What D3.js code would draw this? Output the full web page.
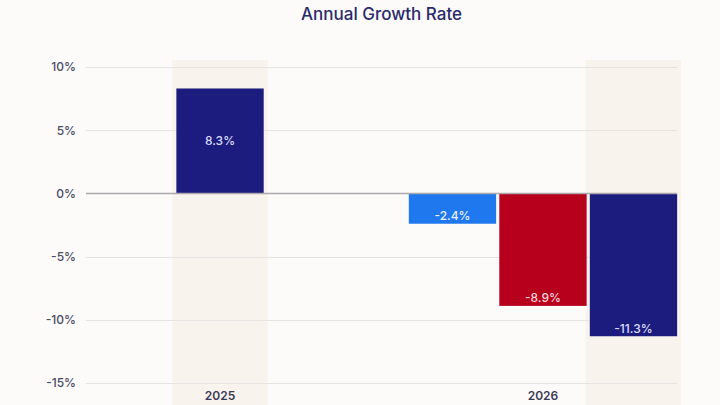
<!DOCTYPE html>
<html>
<head>
<meta charset="utf-8">
<script src="https://cdn.jsdelivr.net/npm/d3@7"></script>
<style>
  html, body { margin: 0; padding: 0; background: #fcfbf9; }
  svg { display: block; }
</style>
</head>
<body>
<div id="chart"></div>
<script>
// chart data
const categories = ["2025", "2026"];
const seriesNames = ["Series A", "Series B", "Series C"];
const seriesColors = ["#1f78ee", "#b6001c", "#1c1c7e"];
const labelColors = ["#e8f0ff", "#ffd6da", "#dcdcff"];
const values2025 = [null, null, 8.3];
const values2026 = [-2.4, -8.9, -11.3];
const highlightSeries = "Series C";
const yTicks = [10, 5, 0, -5, -10, -15];
const titleText = "Annual Growth Rate";

let rows = [values2025, values2026].map((vals, ci) => ({
    category: categories[ci],
    bars: vals.map((v, si) => ({ series: seriesNames[si], color: seriesColors[si], label: labelColors[si], value: v }))
        .filter(b => b.value !== null)
}));

let width = 720, height = 405;
let margin = { left: 86, right: 43, top: 67, bottom: 22 };

let svg = d3.select("#chart").append("svg").attr("width", width).attr("height", height);
svg.append("rect").attr("width", width).attr("height", height).attr("fill", "#fcfbf9");

let x = d3.scalePoint().domain(categories).range([margin.left, width - margin.right]).padding(0.415);
let y = d3.scaleLinear().domain([-15, 10]).range([height - margin.bottom, margin.top]);
let barStep = 90.5;

// inner scale per category so bars stay centered on the year
function innerScale(row) {
    let c = x(row.category);
    let n = row.bars.length;
    return d3.scaleBand().domain(row.bars.map(b => b.series))
        .range([c - n * barStep / 2, c + n * barStep / 2]).paddingInner(0.035).paddingOuter(0.0175);
}

// highlight bands behind the highlighted series
rows.forEach(row => {
    let xi = innerScale(row);
    row.bars.filter(b => b.series === highlightSeries).forEach(b => {
        svg.append("rect").attr("x", xi(b.series) - 4).attr("y", 60)
            .attr("width", xi.bandwidth() + 8).attr("height", height - 60)
            .attr("fill", "#f8f3ed");
    });
});

// grid
svg.append("g").selectAll("line").data(yTicks.filter(t => t !== 0)).join("line")
    .attr("x1", margin.left).attr("x2", width - margin.right)
    .attr("y1", d => Math.round(y(d)) + 0.5).attr("y2", d => Math.round(y(d)) + 0.5)
    .attr("stroke", "#e6e4e2").attr("stroke-width", 1);

// y labels
let yAxis = svg.append("g").attr("transform", "translate(" + margin.left + ",0)")
    .call(d3.axisLeft(y).tickValues(yTicks).tickSize(0).tickPadding(10).tickFormat(d => d + "%"));
yAxis.select(".domain").remove();
yAxis.selectAll("text").attr("fill", "#4a4a66").style("font", "500 12px Inter, sans-serif");

// bars
rows.forEach(row => {
    let xi = innerScale(row);
    let g = svg.append("g");
    g.selectAll("rect").data(row.bars).join("rect")
        .attr("x", d => xi(d.series)).attr("width", xi.bandwidth())
        .attr("y", d => y(Math.max(0, d.value)))
        .attr("height", d => Math.abs(y(d.value) - y(0)))
        .attr("fill", d => d.color);
    g.selectAll("text").data(row.bars).join("text")
        .attr("x", d => xi(d.series) + xi.bandwidth() / 2)
        .attr("y", d => d.value > 0 ? (y(d.value) + y(0)) / 2 : y(d.value) - 8)
        .attr("text-anchor", "middle").attr("dominant-baseline", "central")
        .attr("fill", d => d.label)
        .style("font", "500 12px Inter, sans-serif")
        .text(d => d.value.toFixed(1) + "%");
});

// zero line
svg.append("line").attr("x1", margin.left).attr("x2", width - margin.right)
    .attr("y1", y(0)).attr("y2", y(0)).attr("stroke", "#aaa8ac").attr("stroke-width", 1.5);

// x labels
svg.append("g").selectAll("text").data(categories).join("text")
    .attr("x", d => x(d)).attr("y", 395).attr("text-anchor", "middle").attr("dominant-baseline", "central")
    .attr("fill", "#3a3a55").style("font", "600 12px Inter, sans-serif").text(d => d);

// title, centred over the plot area
svg.append("text").attr("x", (margin.left + width - margin.right) / 2).attr("y", 14)
    .attr("text-anchor", "middle").attr("dominant-baseline", "central")
    .attr("fill", "#2a2a6c").style("font", "500 17px Inter, sans-serif").text(titleText);
</script>
</body>
</html>
